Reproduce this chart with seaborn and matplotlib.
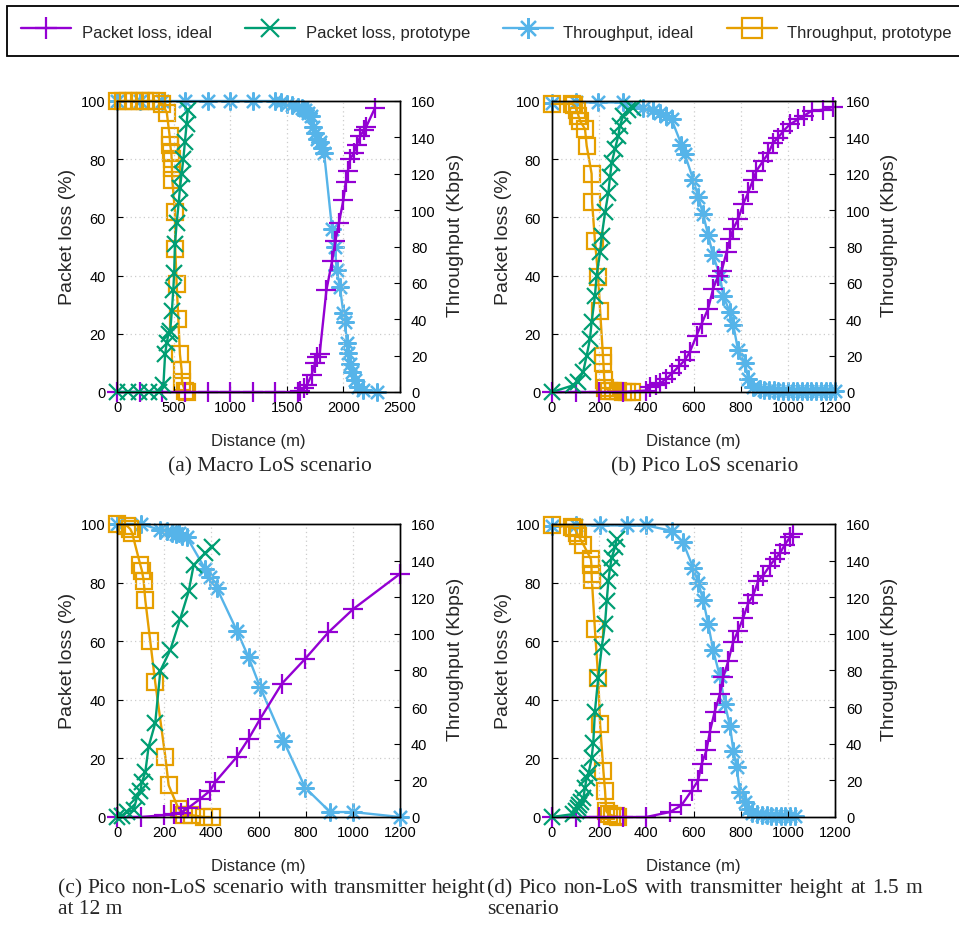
import numpy as np
import pandas as pd
import matplotlib
matplotlib.use("Agg")
import matplotlib.pyplot as plt
import seaborn as sns

# ---------------- data ----------------
# distances in m, packet loss in %, throughput in Kbps

# (a) Macro LoS
a_loss_ideal_x = [0, 200, 400, 600, 800, 1000, 1200, 1400, 1600, 1620, 1650, 1680, 1720, 1750,
                  1770, 1790, 1850, 1900, 1930, 1960, 2000, 2020, 2040, 2060, 2090, 2120, 2150,
                  2180, 2200, 2280]
a_loss_ideal_y = [0, 0, 0, 0, 0, 0, 0, 0, 0, 0.5, 1.5, 2.5, 6, 10, 12, 13, 35, 45, 52, 58, 66,
                  72, 76, 80, 82, 85, 88, 90, 91, 97.7]
a_loss_proto_x = [0, 100, 190, 280, 370, 410, 425, 440, 455, 470, 485, 497, 505, 512, 527, 545,
                  556, 571, 586, 600, 615, 625]
a_loss_proto_y = [0, 0, 0, 0, 0, 2.5, 13, 17, 20, 21, 28, 35, 41, 51, 58, 65, 70, 75, 80, 86,
                  92, 97]
a_thr_ideal_x = [0, 200, 400, 600, 800, 1000, 1200, 1400, 1450, 1500, 1550, 1600, 1630, 1660,
                 1690, 1710, 1730, 1750, 1770, 1790, 1810, 1830, 1900, 1925, 1940, 1970, 2000,
                 2015, 2030, 2045, 2060, 2075, 2100, 2130, 2175, 2300]
a_thr_ideal_y = [160, 160, 160, 160, 160, 160, 160, 160, 159.2, 158.4, 157.6, 156.8, 156, 155.2,
                 153.6, 152, 145.6, 142.4, 139.2, 137.6, 134.4, 131.2, 89.6, 80, 67.2, 57.6,
                 43.2, 38.4, 27.2, 21.6, 15.5, 10.9, 6.4, 2.7, 1, 0]
a_thr_proto_x = [0, 50, 100, 150, 200, 250, 300, 350, 400, 440, 465, 470, 480, 483, 485, 488,
                 512, 515, 527, 542, 556, 571, 575, 600, 615]
a_thr_proto_y = [160, 160, 160, 160, 160, 160, 160, 160, 158.4, 153.6, 140.8, 136, 131.2, 128,
                 123.2, 116.8, 99.2, 78.4, 59.2, 40, 20.8, 12, 5.3, 0.8, 0]

# (b) Pico LoS
b_loss_ideal_x = [0, 100, 200, 300, 400, 415, 440, 460, 485, 510, 540, 563, 584, 613, 634, 662,
                  683, 705, 719, 740, 755, 768, 789, 811, 832, 853, 867, 895, 917, 938, 959, 981,
                  1009, 1044, 1070, 1101, 1150, 1193]
b_loss_ideal_y = [0, 0, 0, 0, 0.5, 1.7, 2.3, 3, 4.6, 6.5, 9, 10.9, 13.7, 19.4, 23.4, 28.6, 35.4,
                  40, 41.5, 48, 52.6, 56, 59.4, 64.6, 68.6, 73, 76, 79.4, 82, 85.7, 87.4, 89.7,
                  92, 93.7, 95, 96.6, 97, 98]
b_loss_proto_x = [0, 90, 110, 132, 147, 161, 168, 182, 189, 204, 211, 225, 239, 246, 253, 267,
                  281, 288, 302, 323, 344]
b_loss_proto_y = [0, 2.3, 3.4, 6.9, 12.5, 18.2, 24, 33, 40, 48, 53.7, 61.7, 68.5, 74, 78.7,
                  83.5, 88, 91.5, 95, 97, 97.5]
b_thr_ideal_x = [0, 100, 195, 301, 386, 429, 457, 485, 507, 549, 563, 599, 620, 641, 662, 683,
                 712, 726, 755, 769, 789, 818, 832, 853, 880, 900, 920, 940, 960, 980, 1000,
                 1020, 1040, 1060, 1080, 1100, 1120, 1140, 1160, 1180, 1200]
b_thr_ideal_y = [159, 159.2, 159.2, 159.2, 156.3, 155.2, 153.6, 152, 149.9, 136, 130.7, 116.8,
                 107.2, 97.6, 86.4, 75.2, 64, 52.8, 43.8, 36.8, 22.9, 16, 7.4, 2.7, 1.6, 1.3,
                 1.1, 1, 0.8, 0.8, 0.8, 0.6, 0.6, 0.5, 0.5, 0.5, 0.5, 0.3, 0.3, 0.3, 0.3]
b_thr_proto_x = [0, 85, 95, 105, 112, 120, 140, 147, 168, 170, 182, 196, 204, 216, 218, 222,
                 226, 240, 260, 280, 300, 320, 340]
b_thr_proto_y = [158.4, 158.4, 157.6, 155.2, 152, 148.8, 144.6, 135.4, 120, 104.5, 83.2, 63.2,
                 44.8, 20, 16, 6.4, 2.4, 0.8, 0.5, 0.3, 0.2, 0, 0]

# (c) Pico non-LoS, transmitter height 12 m
c_loss_ideal_x = [0, 100, 200, 240, 270, 300, 350, 395, 417, 508, 558, 607, 699, 798, 896, 1002,
                  1200]
c_loss_ideal_y = [0, 0, 0.6, 1.1, 1.5, 3, 6, 9, 12, 20.5, 26.7, 33.5, 45.5, 54, 63, 71, 83]
c_loss_proto_x = [0, 20, 42, 70, 85, 99, 106, 120, 134, 162, 184, 226, 268, 304, 325, 374, 402]
c_loss_proto_y = [0, 0.5, 1.7, 2.3, 6.8, 9, 12, 15.3, 24, 32, 50, 57, 67.6, 77, 86, 90, 92]
c_thr_ideal_x = [0, 100, 184, 212, 235, 250, 262, 275, 296, 374, 395, 424, 508, 558, 607, 706,
                 798, 904, 1002, 1200]
c_thr_ideal_y = [160, 160, 156.8, 156.3, 155.2, 154.4, 155.2, 153.6, 152.8, 135.5, 131.2, 124.8,
                 101.8, 87.2, 70.9, 41.6, 16, 2.7, 2.7, 0]
c_thr_proto_x = [0, 42, 56, 64, 99, 106, 113, 120, 141, 162, 205, 219, 261, 282, 318, 367, 402]
c_thr_proto_y = [160, 159, 157.3, 155.2, 137.6, 134.4, 129.1, 118.4, 96, 73.6, 32.8, 17.3, 4.5,
                 1, 1, 0, 0]

# (d) Pico non-LoS, transmitter height 1.5 m
d_loss_ideal_x = [0, 100, 200, 300, 400, 500, 549, 592, 620, 634, 655, 669, 690, 712, 726, 748,
                  768, 789, 811, 832, 853, 875, 895, 924, 945, 966, 988, 1009, 1023]
d_loss_ideal_y = [0, 0, 0, 0, 0, 1.7, 4, 9, 12.5, 18, 22.7, 29, 36, 42, 47.7, 53.4, 59.7, 63.6,
                  68, 73, 75.6, 80.7, 82.4, 85.8, 88, 90, 93, 95.5, 96.6]
d_loss_proto_x = [0, 90, 100, 112, 116, 125, 133, 140, 147, 155, 168, 175, 182, 196, 211, 225,
                  232, 239, 246, 253, 267, 274]
d_loss_proto_y = [0, 1, 2, 3.2, 4, 5, 6.6, 10, 13.4, 15, 20, 25.4, 36, 47.5, 58, 66, 73.7, 80.5,
                  85, 88.5, 92, 95]
d_thr_ideal_x = [0, 103, 202, 316, 400, 507, 556, 599, 620, 641, 662, 683, 712, 733, 755, 769,
                 783, 797, 818, 832, 850, 870, 890, 910, 930, 950, 970, 990, 1010, 1030]
d_thr_ideal_y = [159, 159.2, 159.2, 159.2, 159.2, 156.3, 149.9, 136, 128, 118.4, 105.6, 91.2,
                 76.8, 61.8, 49.6, 36.3, 27.2, 13.6, 8, 4.5, 2.4, 1.6, 1.3, 1, 0.8, 0.8, 0.6,
                 0.6, 0.5, 0.5]
d_thr_proto_x = [0, 84, 95, 105, 112, 133, 165, 167, 168, 169, 182, 196, 204, 218, 225, 230, 240,
                 255, 270, 280]
d_thr_proto_y = [159.2, 158.4, 157.6, 155.2, 153.6, 148.8, 140.8, 137.6, 132.8, 129.6, 102.4, 76,
                 50.6, 25.1, 14.2, 3.2, 1.6, 0.8, 0.3, 0]

series_labels = ["Packet loss, ideal", "Packet loss, prototype",
                 "Throughput, ideal", "Throughput, prototype"]
loss_ticks = [0, 20, 40, 60, 80, 100]
thr_ticks = [0, 20, 40, 60, 80, 100, 120, 140, 160]
a_xticks = [0, 500, 1000, 1500, 2000, 2500]
pico_xticks = [0, 200, 400, 600, 800, 1000, 1200]

captions = {
    "a": "(a) Macro LoS scenario",
    "b": "(b) Pico LoS scenario",
    "c1": "(c) Pico non-LoS scenario with transmitter height",
    "c2": "at 12 m",
    "d1": "(d) Pico non-LoS with transmitter height at 1.5 m",
    "d2": "scenario",
}

# ---------------- style ----------------
sns.set_style("white")
plt.rcParams['font.family'] = ['Liberation Sans', 'DejaVu Sans']
plt.rcParams['axes.unicode_minus'] = False

C_LI = '#9400D3'
C_LP = '#009E73'
C_TI = '#56B4E9'
C_TP = '#E69F00'
ASTER = (8, 2, 0)

W, H = 959, 928
fig = plt.figure(figsize=(W / 100, H / 100), dpi=100)


def fx(px):
    return px / W


def fy(py):
    return 1 - py / H


def draw(ax, x, y, color, marker, ms, hollow=False):
    kw = dict(color=color, marker=marker, markersize=ms, markeredgewidth=1.6,
              markeredgecolor=color, linewidth=1.7, estimator=None, sort=False,
              clip_on=False, legend=False)
    if hollow:
        kw['markerfacecolor'] = 'none'
    sns.lineplot(x=x, y=y, ax=ax, **kw)
    return ax.lines[-1]


panels = [
    (117, 102, 393, (0, 2500), a_xticks,
     (a_loss_ideal_x, a_loss_ideal_y), (a_loss_proto_x, a_loss_proto_y),
     (a_thr_ideal_x, a_thr_ideal_y), (a_thr_proto_x, a_thr_proto_y)),
    (552, 102, 393, (0, 1200), pico_xticks,
     (b_loss_ideal_x, b_loss_ideal_y), (b_loss_proto_x, b_loss_proto_y),
     (b_thr_ideal_x, b_thr_ideal_y), (b_thr_proto_x, b_thr_proto_y)),
    (117, 525, 818, (0, 1200), pico_xticks,
     (c_loss_ideal_x, c_loss_ideal_y), (c_loss_proto_x, c_loss_proto_y),
     (c_thr_ideal_x, c_thr_ideal_y), (c_thr_proto_x, c_thr_proto_y)),
    (552, 525, 818, (0, 1200), pico_xticks,
     (d_loss_ideal_x, d_loss_ideal_y), (d_loss_proto_x, d_loss_proto_y),
     (d_thr_ideal_x, d_thr_ideal_y), (d_thr_proto_x, d_thr_proto_y)),
]

AX_W = 283
handles = None
for (left, top, bottom, xlim, xticks, li, lp, ti, tp) in panels:
    ax = fig.add_axes([fx(left), fy(bottom), fx(AX_W), (bottom - top) / H])
    ax2 = ax.twinx()
    ax.set_zorder(ax2.get_zorder() + 1)
    ax.patch.set_visible(False)

    h_ti = draw(ax2, ti[0], ti[1], C_TI, ASTER, 13)
    h_tp = draw(ax2, tp[0], tp[1], C_TP, 's', 12, hollow=True)
    h_li = draw(ax, li[0], li[1], C_LI, '+', 14)
    h_lp = draw(ax, lp[0], lp[1], C_LP, 'x', 11)
    if handles is None:
        handles = [h_li, h_lp, h_ti, h_tp]

    ax.set_xlim(*xlim)
    ax.set_ylim(0, 100)
    ax2.set_ylim(0, 160)
    ax.set_xticks(xticks)
    ax.set_yticks(loss_ticks)
    ax2.set_yticks(thr_ticks)

    ax.grid(True, color='#cccccc', linestyle=(0, (1, 2.5)), linewidth=0.9)
    for a in (ax, ax2):
        for s in a.spines.values():
            s.set_color('black')
            s.set_linewidth(1.0)
    ax.tick_params(axis='x', direction='in', length=4, width=0.8, labelsize=10.5, pad=6,
                   bottom=True, top=False, colors='black')
    ax.tick_params(axis='y', direction='in', length=4, width=0.8, labelsize=10.5, pad=8,
                   left=True, right=False, colors='black')
    ax2.tick_params(axis='y', direction='in', length=4, width=0.8, labelsize=10.5, pad=8,
                    colors='black')

    h = bottom - top
    ax.set_xlabel("Distance (m)", fontsize=12)
    ax.xaxis.label.set_va('center')
    ax.xaxis.set_label_coords(0.5, -(49 / h))
    ax.set_ylabel("Packet loss (%)", fontsize=14)
    ax.yaxis.label.set_va('center')
    ax.yaxis.set_label_coords(-49 / AX_W, 0.535)
    ax2.set_ylabel("Throughput (Kbps)", fontsize=14)
    ax2.yaxis.label.set_va('center')
    ax2.yaxis.set_label_coords(1 + 55 / AX_W, 0.54)

# legend: frame runs from x=7 to past the right edge of the figure, top at y=7
leg = fig.legend(handles, series_labels, loc='upper left',
                 bbox_to_anchor=(fx(7), fy(57), fx(966 - 7), 50 / H), mode='expand',
                 ncol=4, fontsize=12, frameon=True,
                 fancybox=False, edgecolor='black', framealpha=1, borderpad=0.85,
                 handlelength=3.0, handleheight=1.65, handletextpad=0.65,
                 borderaxespad=0, markerscale=1.15)
leg.get_frame().set_linewidth(1.3)

# captions
SERIF = ['Liberation Serif', 'DejaVu Serif']
CAP_FS = 15.5
fig.text(fx(270), fy(467), captions["a"], ha='center', va='center', fontsize=CAP_FS, family=SERIF)
fig.text(fx(705), fy(467), captions["b"], ha='center', va='center', fontsize=CAP_FS, family=SERIF)
fig.text(fx(58), fy(910), captions["c2"], ha='left', va='center', fontsize=CAP_FS, family=SERIF)
fig.text(fx(487), fy(910), captions["d2"], ha='left', va='center', fontsize=CAP_FS, family=SERIF)

# justified first lines of (c) and (d)
renderer = fig.canvas.get_renderer()


def justified(text, x0, x1, y):
    words = text.split(" ")
    objs = [fig.text(0, fy(y), w, ha='left', va='center', fontsize=CAP_FS, family=SERIF)
            for w in words]
    widths = [o.get_window_extent(renderer).width for o in objs]
    gap = (x1 - x0 - sum(widths)) / (len(words) - 1)
    x = x0
    for o, w in zip(objs, widths):
        o.set_x(fx(x))
        x += w + gap


justified(captions["c1"], 58, 486, 889)
justified(captions["d1"], 487, 922, 889)

fig.savefig("out.png", dpi=100)
